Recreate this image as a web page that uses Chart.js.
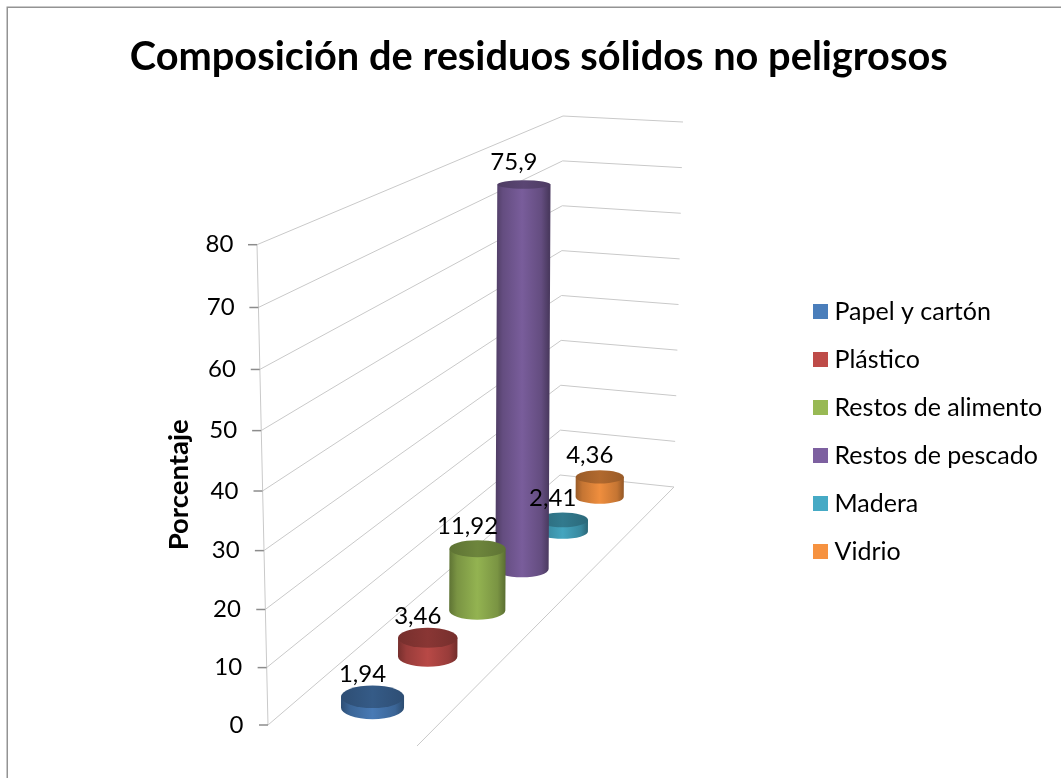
<!DOCTYPE html>
<html lang="es">
<head>
<meta charset="utf-8">
<title>Composición de residuos sólidos no peligrosos</title>
<script src="https://cdn.jsdelivr.net/npm/chart.js@4/dist/chart.umd.js"></script>
<style>html,body{margin:0;padding:0;background:#fff}canvas{display:block}</style>
</head>
<body>
<canvas id="c" width="1061" height="778"></canvas>
<script>
const titleText = 'Composición de residuos sólidos no peligrosos';
const axisTitle = 'Porcentaje';
const categories = ['Papel y cartón', 'Plástico', 'Restos de alimento', 'Restos de pescado', 'Madera', 'Vidrio'];
const values = [1.94, 3.46, 11.92, 75.9, 2.41, 4.36];
const colors = ['#4A7EBB', '#BE4B48', '#98B954', '#7D60A0', '#46AAC5', '#F69240'];
const FONT = 'Lato, "Open Sans", sans-serif';
const yMax = 80;

// Perspective box of the 3-D scene (layout only)
const lerp = (a, b, t) => a + (b - a) * t;
const BOX = {
  frontLeftX: [268, 257], backLeftX: [560, 563], backRightX: [674, 683],
  backLeftY: [475, 116], backRightY: [487, 122],
  floorFrontRight: [417, 746],
  midFront: [342.5, 735.5], midBack: [617, 481],
  depthPerspective: 1.35, radiusFront: 32.5, radiusBack: 23.5,
  heightGain: 1.012, topLean: 2
};
const depthOf = i => { const w = (i + 0.5) / categories.length, a = BOX.depthPerspective; return w * a / (1 + (a - 1) * w); };
const flatness = y => 0.00039 * (y + 225);

function shade(hex, f) {
  const n = parseInt(hex.slice(1), 16);
  const c = [n >> 16 & 255, n >> 8 & 255, n & 255].map(v => Math.round(Math.min(255, v * f)));
  return `rgb(${c[0]},${c[1]},${c[2]})`;
}

function project(chart, i, v) {
  const ys = chart.scales.y, t = depthOf(i);
  const bx = lerp(BOX.midFront[0], BOX.midBack[0], t), by = lerp(BOX.midFront[1], BOX.midBack[1], t);
  const front = ys.getPixelForValue(0) - ys.getPixelForValue(v);
  const back = BOX.backLeftY[0] - lerp(BOX.backLeftY[0], BOX.backLeftY[1], v / yMax);
  return {
    x: bx, xTop: bx + BOX.topLean * v / yMax, base: by,
    top: by - lerp(front, back, t) * BOX.heightGain,
    r: lerp(BOX.radiusFront, BOX.radiusBack, t)
  };
}

function drawCylinder(ctx, p, color) {
  const ryT = p.r * flatness(p.top), ryB = p.r * flatness(p.base);
  const g = ctx.createLinearGradient(p.x - p.r, 0, p.x + p.r, 0);
  g.addColorStop(0, shade(color, 0.62));
  g.addColorStop(0.14, shade(color, 0.80));
  g.addColorStop(0.5, shade(color, 0.97));
  g.addColorStop(0.86, shade(color, 0.80));
  g.addColorStop(1, shade(color, 0.60));
  ctx.beginPath();
  ctx.moveTo(p.xTop - p.r, p.top);
  ctx.lineTo(p.x - p.r, p.base);
  ctx.ellipse(p.x, p.base, p.r, ryB, 0, Math.PI, 0, true);
  ctx.lineTo(p.xTop + p.r, p.top);
  ctx.closePath();
  ctx.fillStyle = g;
  ctx.fill();
  const h = ctx.createLinearGradient(p.xTop - p.r, 0, p.xTop + p.r, 0);
  h.addColorStop(0, shade(color, 0.62));
  h.addColorStop(0.5, shade(color, 0.72));
  h.addColorStop(1, shade(color, 0.62));
  ctx.beginPath();
  ctx.ellipse(p.xTop, p.top, p.r, ryT, 0, 0, Math.PI * 2);
  ctx.fillStyle = h;
  ctx.fill();
}

const swatches = colors.map(col => {
  const s = document.createElement('canvas');
  s.width = 15; s.height = 15;
  const x = s.getContext('2d');
  x.fillStyle = col; x.fillRect(0, 0, 15, 15);
  return s;
});

const scenePlugin = {
  id: 'scene',
  afterLayout(chart) {
    const t = chart.titleBlock; t.left -= 73; t.right -= 73;
    const l = chart.legend;
    const h = l.bottom - l.top;
    l.top = 276; l.bottom = 276 + h;
    l.left = 796; l.right = 1061;
  },
  beforeDraw(chart) {
    const ctx = chart.ctx;
    ctx.save();
    ctx.strokeStyle = '#939393'; ctx.lineWidth = 1.5;
    ctx.strokeRect(7.25, 7.25, 2000, 2000);
    ctx.restore();
  },
  beforeDatasetsDraw(chart) {
    const ctx = chart.ctx, ys = chart.scales.y;
    ctx.save();
    ctx.lineWidth = 1; ctx.strokeStyle = '#C9C9C9';
    ys.ticks.forEach(tk => {
      const f = tk.value / yMax, y = ys.getPixelForValue(tk.value);
      ctx.beginPath();
      ctx.moveTo(lerp(BOX.frontLeftX[0], BOX.frontLeftX[1], f), y);
      ctx.lineTo(lerp(BOX.backLeftX[0], BOX.backLeftX[1], f), lerp(BOX.backLeftY[0], BOX.backLeftY[1], f));
      ctx.lineTo(lerp(BOX.backRightX[0], BOX.backRightX[1], f), lerp(BOX.backRightY[0], BOX.backRightY[1], f));
      ctx.stroke();
    });
    ctx.beginPath();
    ctx.moveTo(BOX.backRightX[0], BOX.backRightY[0]);
    ctx.lineTo(BOX.floorFrontRight[0], BOX.floorFrontRight[1]);
    ctx.moveTo(BOX.frontLeftX[0], ys.getPixelForValue(0));
    ctx.lineTo(BOX.frontLeftX[1], ys.getPixelForValue(yMax));
    ctx.stroke();
    ctx.strokeStyle = '#8C8C8C'; ctx.lineWidth = 1.5;
    ys.ticks.forEach(tk => {
      const f = tk.value / yMax, y = ys.getPixelForValue(tk.value), x = lerp(BOX.frontLeftX[0], BOX.frontLeftX[1], f);
      ctx.beginPath(); ctx.moveTo(x - 9, y); ctx.lineTo(x, y); ctx.stroke();
    });
    ctx.restore();
  },
  beforeDatasetDraw(chart, args) {
    const ctx = chart.ctx;
    ctx.save();
    for (let i = values.length - 1; i >= 0; i--) {
      drawCylinder(ctx, project(chart, i, chart.data.datasets[args.index].data[i]), colors[i]);
    }
    ctx.restore();
    return false;
  },
  afterDatasetsDraw(chart) {
    const ctx = chart.ctx;
    ctx.save();
    ctx.font = '24px ' + FONT; ctx.fillStyle = '#000';
    ctx.textAlign = 'center'; ctx.textBaseline = 'middle';
    values.forEach((v, i) => {
      const p = project(chart, i, v);
      ctx.fillText(String(v).replace('.', ','), p.xTop - 10, p.top - 22);
    });
    ctx.restore();
  }
};

class PerspectiveScale extends Chart.LinearScale {
  static id = 'perspective';
  static defaults = Chart.LinearScale.defaults;
  getPixelForValue(v) {
    const t = (v - this.min) / (this.max - this.min), k = -0.05;
    return this.bottom - (this.bottom - this.top) * (t * (1 + k) / (1 + k * t));
  }
  _computeLabelItems(chartArea) {
    const items = super._computeLabelItems(chartArea);
    items.forEach((it, i) => {
      const f = this.ticks[i].value / yMax;
      it.options.translation[0] += lerp(5, -5, f); // labels follow the tilted wall edge
    });
    return items;
  }
}
Chart.register(PerspectiveScale);

new Chart(document.getElementById('c'), {
  type: 'bar',
  data: { labels: categories, datasets: [{ label: axisTitle, data: values, backgroundColor: colors }] },
  plugins: [scenePlugin],
  options: {
    responsive: false, animation: false,
    layout: { padding: { left: 162.5, right: 0, top: 0, bottom: 53 } },
    scales: {
      x: { display: false },
      y: {
        type: 'perspective', min: 0, max: yMax,
        grid: { display: false }, border: { display: false },
        ticks: { stepSize: 10, padding: 12, color: '#000', font: { family: FONT, size: 24 } },
        title: { display: true, text: axisTitle, color: '#000', padding: { top: 0, bottom: 3 }, font: { family: FONT, size: 27.5, weight: 'bold' } }
      }
    },
    plugins: {
      title: { display: true, text: titleText, color: '#000', padding: { top: 33, bottom: 164 }, font: { family: FONT, size: 39.75, weight: 'bold' } },
      tooltip: { enabled: false },
      legend: {
        position: 'right', align: 'start',
        labels: {
          usePointStyle: true, pointStyleWidth: 3, boxHeight: 15, padding: 23, color: '#000',
          font: { family: FONT, size: 25 },
          generateLabels: () => categories.map((c, i) => ({ text: c, fillStyle: colors[i], strokeStyle: colors[i], lineWidth: 0, pointStyle: swatches[i], hidden: false, index: i, fontColor: '#000' }))
        }
      }
    }
  }
});
</script>
</body>
</html>
